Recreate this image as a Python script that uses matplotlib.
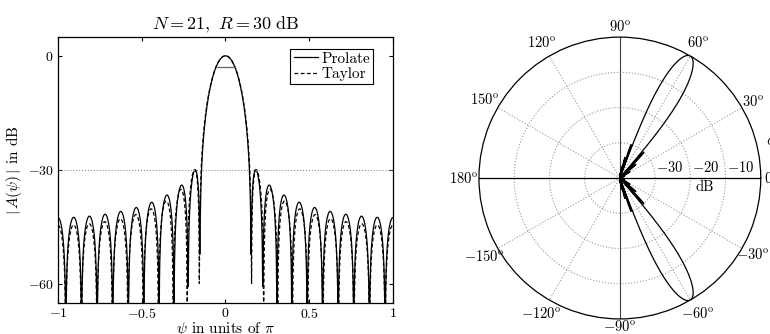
import numpy as np
import matplotlib
matplotlib.use('Agg')
from matplotlib import pyplot as plt

plt.rcParams['mathtext.fontset'] = 'cm'
plt.rcParams['font.family'] = ['cmr10', 'DejaVu Serif']
plt.rcParams['axes.formatter.use_mathtext'] = True
plt.rcParams['font.size'] = 10.5

# array parameters, as given in the title
N = 21          # number of elements
R = 30          # sidelobe level, dB
steer = 60      # steering angle of the polar pattern, degrees
db_range = 40   # dynamic range of the polar plot, dB

xticks = [-1, -0.5, 0, 0.5, 1]
xticklabels = ['$-1$', '$-0.5$', '$0$', '$0.5$', '$1$']
yticks = [-60, -30, 0]
yticklabels = ['$-60$', '$-30$', '$0$']
angles = [60, 30, 180, 150, 120, -150, -120, -60, -30]
ring_labels = ['$-30$', '$-20$', '$-10$']
legend_labels = ['Prolate', 'Taylor']


def afactor(a, psi):
    m = np.arange(len(a)) - (len(a) - 1) / 2
    return np.abs(np.exp(1j * np.outer(psi, m)) @ a) / np.sum(a)


def sidelobe(a):
    psi = np.linspace(0, np.pi, 4001)
    g = afactor(a, psi)
    k = np.argmax(np.diff(g) > 0)   # first null
    return 20 * np.log10(g[k:].max())


def prolate(N, psib):
    n = np.arange(N)
    d = n[:, None] - n[None, :]
    dd = np.where(d == 0, 1, d)
    A = np.where(d == 0, psib / np.pi, np.sin(psib * d) / (np.pi * dd))
    w, v = np.linalg.eigh(A)
    a = v[:, -1]
    return a * np.sign(a.sum())


def taylor(N, B):
    m = np.arange(N) - (N - 1) / 2
    return np.i0(np.pi * B * np.sqrt(1 - (2 * m / (N - 1)) ** 2))


def design(f, N, R, lo, hi):
    # bisection on the shape parameter until the highest sidelobe is -R dB
    for i in range(50):
        mid = (lo + hi) / 2
        if sidelobe(f(N, mid)) > -R:
            lo = mid
        else:
            hi = mid
    return f(N, (lo + hi) / 2)


a_prol = design(prolate, N, R, 0.5 * np.pi / N, 8 * np.pi / N)
a_tay = design(taylor, N, R, 0.2, 3.0)

psi = np.linspace(-1, 1, 1001)
A_prol = 20 * np.log10(afactor(a_prol, np.pi * psi))
A_tay = 20 * np.log10(afactor(a_tay, np.pi * psi))

fig = plt.figure(figsize=(7.7, 3.34), dpi=100)

# ---- left: array factor
ax = fig.add_axes([0.0753, 0.0937, 0.435, 0.796])
ax.plot(psi, A_prol, 'k-', lw=0.9, label=legend_labels[0])
ax.plot(psi, A_tay, 'k--', lw=0.9, dashes=(3, 2), label=legend_labels[1])
ax.axhline(-R, color='0.55', ls=':', lw=0.8)

# 3-dB width of the prolate main lobe
sel = (psi >= 0) & (A_prol > -20)
p3 = np.interp(-3, A_prol[sel][::-1], psi[sel][::-1])
ax.plot([-p3, p3], [-3, -3], color='0.4', lw=0.9)

ax.set_xlim(-1, 1)
ax.set_ylim(-65, 5)
ax.set_xticks(xticks)
ax.set_xticklabels(xticklabels)
ax.set_yticks(yticks)
ax.set_yticklabels(yticklabels)
ax.tick_params(direction='in', top=True, right=True, length=3, labelsize=10, pad=3)
ax.set_title('$N=21,\\ R=30\\ \\mathrm{dB}$', fontsize=13, pad=5)
ax.set_xlabel(r'$\psi$ in units of $\pi$', fontsize=11, labelpad=-0.5)
ax.set_ylabel(r'$|\,A(\psi)\,|$ in dB', fontsize=11, labelpad=3)
for s in ax.spines.values():
    s.set_linewidth(0.9)
leg = ax.legend(loc='upper right', bbox_to_anchor=(0.94, 0.955), fontsize=11,
                fancybox=False, edgecolor='k', framealpha=1, handlelength=1.6,
                handletextpad=0.2, labelspacing=0.1, borderpad=0.2,
                borderaxespad=0)
leg.get_frame().set_linewidth(0.8)

# ---- right: polar gain pattern in dB
phi = np.linspace(0, 2 * np.pi, 3001)
g = 20 * np.log10(afactor(a_prol, np.pi * (np.cos(phi) - np.cos(np.radians(steer)))))
rho = np.clip((g + db_range) / db_range, 0, None)

pax = fig.add_axes([0.622, 0.045, 0.366, 0.844], projection='polar')
pax.set_ylim(0, 1)
pax.grid(False)
pax.set_xticks([])
pax.set_yticks([])
pax.spines['polar'].set_linewidth(0.9)

th = np.linspace(0, 2 * np.pi, 400)
for rr in (0.25, 0.5, 0.75):
    pax.plot(th, np.full_like(th, rr), ':', color='0.6', lw=0.8)
for a in (30, 60, 120, 150, 210, 240, 300, 330):
    pax.plot([np.radians(a)] * 2, [0, 1], ':', color='0.6', lw=0.8)
for a in (0, 180):
    pax.plot([np.radians(a)] * 2, [0, 1], color='k', lw=0.9)
for a in (90, 270):
    pax.plot([np.radians(a)] * 2, [0, 1], color='0.25', lw=0.8)

pax.plot(phi, rho, 'k-', lw=0.9)

for a in angles:
    r = 1.09 if abs(a) == 30 else 1.11
    pax.text(np.radians(a), r, r'$%d^{\mathrm{o}}$' % a, ha='center', va='center', fontsize=10.5)
pax.text(np.radians(90), 1.075, r'$90^{\mathrm{o}}$', ha='center', va='center', fontsize=10.5)
pax.text(np.radians(-90), 1.055, r'$-90^{\mathrm{o}}$', ha='center', va='center', fontsize=10.5)
pax.text(1.01, 0.5, r'$0^{\mathrm{o}}$', transform=pax.transAxes, ha='left', va='center', fontsize=10.5)
pax.text(1.018, 0.635, r'$\phi$', transform=pax.transAxes, ha='left', va='center', fontsize=12)
for k, lab in enumerate(ring_labels):
    pax.text(0.5 + 0.125 * (k + 1) + 0.005, 0.51, lab, transform=pax.transAxes,
             ha='left', va='bottom', fontsize=10.5)
pax.text(0.80, 0.468, 'dB', transform=pax.transAxes,
         ha='center', va='center', fontsize=10.5)

plt.savefig('out.png', dpi=100)
